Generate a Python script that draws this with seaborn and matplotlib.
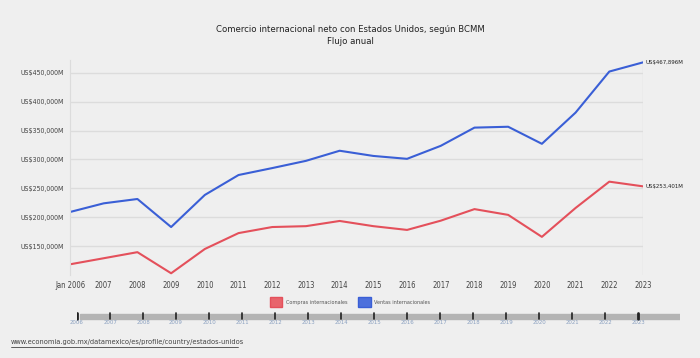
import pandas as pd
import matplotlib.pyplot as plt
import seaborn as sns

# Data (millions of US$)
years = list(range(2006, 2024))
ventas = [209000, 224000, 231500, 183000, 238500, 273000, 285000, 297500, 315000,
          306000, 301000, 323500, 355000, 356500, 327000, 381000, 452000, 467896]
compras = [118500, 129000, 139500, 103000, 145000, 172500, 183000, 184500, 193500,
           184500, 178000, 194000, 214000, 204000, 166000, 216000, 261500, 253401]
yticks = [150000, 200000, 250000, 300000, 350000, 400000, 450000]
xlabels = ["Jan 2006"] + [str(y) for y in years[1:]]

red = "#e4505b"
blue = "#3a5fd6"
bg = "#efefef"

sns.set_style("white")
plt.rcParams["font.family"] = ["DejaVu Sans"]
plt.rcParams["font.stretch"] = "condensed"

df = pd.DataFrame({
    "year": years * 2,
    "value": compras + ventas,
    "serie": ["Compras internacionales"] * len(years) + ["Ventas internacionales"] * len(years),
})

fig = plt.figure(figsize=(7, 3.58), dpi=100)
fig.patch.set_facecolor(bg)
ax = fig.add_axes([70 / 700, 1 - 275 / 358, (643 - 70) / 700, (275 - 60) / 358])
ax.set_facecolor(bg)

sns.lineplot(data=df, x="year", y="value", hue="serie",
             palette={"Compras internacionales": red, "Ventas internacionales": blue},
             linewidth=1.5, legend=False, ax=ax)

ax.set_xlim(2006, 2023)
ax.set_ylim(100000, 472000)
ax.set_xticks(years)
ax.set_xticklabels(xlabels)
ax.set_yticks(yticks)
ax.set_yticklabels([f"US${v:,}M" for v in yticks])
ax.tick_params(axis="x", length=0, labelsize=5.5, colors="#444444", pad=4)
ax.tick_params(axis="y", length=0, labelsize=5, colors="#444444", pad=4)
ax.grid(axis="y", color="#dcdcdc", linewidth=1)
ax.axvline(2023, color="#dcdcdc", linewidth=1, zorder=0)
for s in ["top", "right", "bottom"]:
    ax.spines[s].set_visible(False)
ax.spines["left"].set_color("#dcdcdc")
ax.set_xlabel("")
ax.set_ylabel("")

# end labels
ax.annotate(f"US${ventas[-1]:,}M", (years[-1], ventas[-1]), xytext=(2, 0),
            textcoords="offset points", fontsize=4.3, va="center", color="#222222")
ax.annotate(f"US${compras[-1]:,}M", (years[-1], compras[-1]), xytext=(2, 0),
            textcoords="offset points", fontsize=4.3, va="center", color="#222222")

# title
fig.text(0.5, 1 - 29 / 358, "Comercio internacional neto con Estados Unidos, según BCMM",
         ha="center", va="center", fontsize=6.8, color="#222222")
fig.text(0.5, 1 - 41 / 358, "Flujo anual", ha="center", va="center", fontsize=6.8, color="#222222")

# legend
handles = [plt.Rectangle((0, 0), 1, 1, facecolor="#e8646c", edgecolor=red),
           plt.Rectangle((0, 0), 1, 1, facecolor="#4d70dc", edgecolor=blue)]
fig.legend(handles, ["Compras internacionales", "Ventas internacionales"],
           loc="center", bbox_to_anchor=(0.5, 1 - 302 / 358), ncol=2, frameon=False,
           fontsize=4, handlelength=2.2, handleheight=2.2, columnspacing=2.0,
           handletextpad=0.6, labelcolor="#555555")

# timeline slider
tl = fig.add_axes([77 / 700, 1 - 330 / 358, (680 - 77) / 700, 20 / 358])
tl.set_facecolor(bg)
tl.set_xlim(2006, 2006 + (680 - 77) / 33.0)
tl.set_ylim(0, 20)
tl.axhspan(11, 16, xmin=3 / 603, xmax=1, color="#b4b4b4")
for y in years:
    lw = 2 if y in (2006, 2023) else 1.2
    tl.plot([y, y], [11, 17.5], color="#222222", linewidth=lw)
    tl.text(y, 7.5, str(y), ha="center", va="center", fontsize=4.3, color="#8aa0c0")
tl.axis("off")

# footer link
fig.text(11 / 700, 1 - 342 / 358, "www.economia.gob.mx/datamexico/es/profile/country/estados-unidos",
         ha="left", va="center", fontsize=5.3, color="#444444")
fig.add_artist(plt.Line2D([11 / 700, 238 / 700], [1 - 347 / 358, 1 - 347 / 358],
                          color="#444444", linewidth=0.6))

fig.savefig("out.png", dpi=100, facecolor=bg)
